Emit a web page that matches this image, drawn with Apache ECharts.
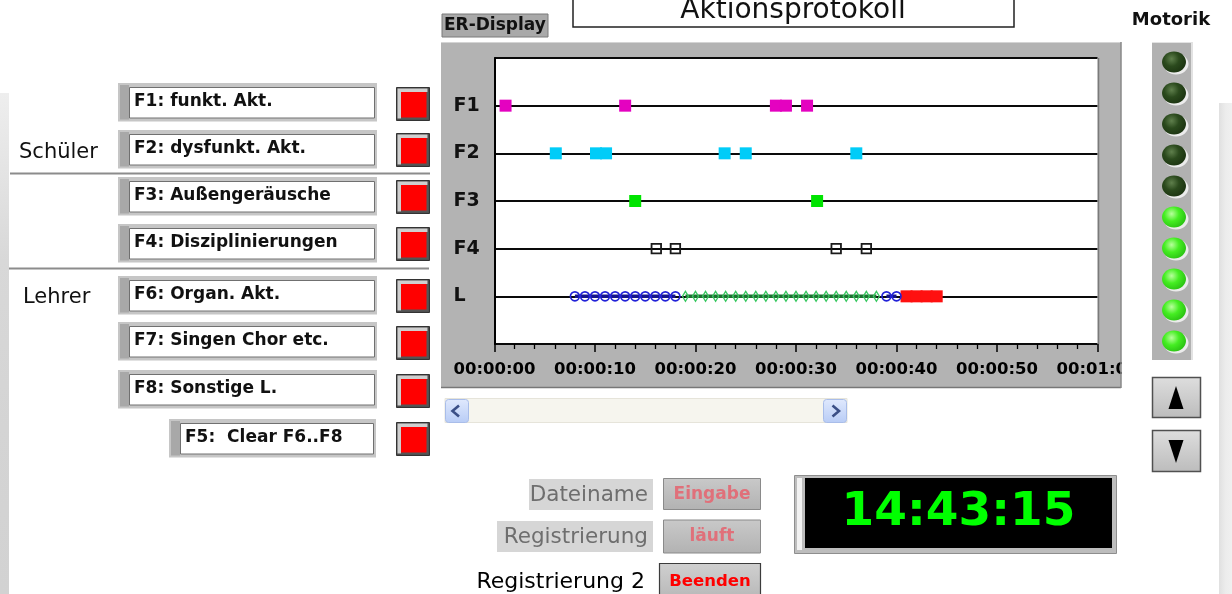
<!DOCTYPE html>
<html><head><meta charset="utf-8">
<script src="https://cdn.jsdelivr.net/npm/echarts@6.0.0/dist/echarts.min.js"></script>
<style>html,body{margin:0;padding:0;background:#fff;overflow:hidden}#c{width:1232px;height:594px}</style>
</head><body><div id="c"></div><script>
// ---------- data ----------
const rowLabels = ['', 'L', 'F4', 'F3', 'F2', 'F1', ''];
const xTickLabels = ['00:00:00','00:00:10','00:00:20','00:00:30','00:00:40','00:00:50','00:01:00'];
const f1Times = [1.1, 13.0, 28.0, 29.0, 31.1];
const f2Times = [6.1, 10.1, 11.1, 22.9, 25.0, 36.0];
const f3Times = [14.0, 32.1];
const f4Times = [16.1, 18.0, 34.0, 37.0];
const lOrganTimesA = [8, 9, 10, 11, 12, 13, 14, 15, 16, 17, 18];
const lChorTimes = [19, 20, 21, 22, 23, 24, 25, 26, 27, 28, 29, 30, 31, 32, 33, 34, 35, 36, 37, 38];
const lOrganTimesB = [39, 40];
const lSonstigeTimes = [41, 42, 43, 44];
const rowF1 = 5, rowF2 = 4, rowF3 = 3, rowF4 = 2, rowL = 1;
const keyLabels = ['F1: funkt. Akt.', 'F2: dysfunkt. Akt.', 'F3: Außengeräusche', 'F4: Disziplinierungen',
  'F6: Organ. Akt.', 'F7: Singen Chor etc.', 'F8: Sonstige L.', 'F5:  Clear F6..F8'];
const groupLabels = ['Schüler', 'Lehrer'];
const motorikLit = [0, 0, 0, 0, 0, 1, 1, 1, 1, 1];
const clockText = '14:43:15';
const titleText = 'Aktionsprotokoll';

// ---------- helpers ----------
const FF = '"DejaVu Sans", sans-serif';
const G = [];
function sty(fill, stroke, lw) { const s = {fill: fill || 'none'}; if (stroke) { s.stroke = stroke; s.lineWidth = lw || 1; } return s; }
function R(x, y, w, h, fill, stroke, lw, z, r) { G.push({type: 'rect', silent: true, z: z == null ? 10 : z, shape: {x: x, y: y, width: w, height: h, r: r || 0}, style: sty(fill, stroke, lw)}); }
function T(x, y, s, font, fill, align, va, z) { G.push({type: 'text', silent: true, z: z == null ? 12 : z, x: x, y: y, style: {text: s, font: font, fill: fill, align: align || 'left', verticalAlign: va || 'middle'}}); }
function L(x1, y1, x2, y2, stroke, lw, z) { G.push({type: 'line', silent: true, z: z == null ? 11 : z, shape: {x1: x1, y1: y1, x2: x2, y2: y2}, style: {stroke: stroke, lineWidth: lw}}); }
function P(points, fill, z) { G.push({type: 'polygon', silent: true, z: z == null ? 12 : z, shape: {points: points}, style: {fill: fill}}); }
function PL(points, stroke, lw, z) { G.push({type: 'polyline', silent: true, z: z == null ? 12 : z, shape: {points: points}, style: {stroke: stroke, lineWidth: lw, fill: 'none'}}); }
function E(cx, cy, rx, ry, fill, z) { G.push({type: 'ellipse', silent: true, z: z == null ? 11 : z, shape: {cx: cx, cy: cy, rx: rx, ry: ry}, style: {fill: fill}}); }
const lg = (x1, y1, x2, y2, stops) => new echarts.graphic.LinearGradient(x1, y1, x2, y2, stops.map((c, i) => ({offset: i / (stops.length - 1), color: c})));
const rg = (x, y, r, stops) => new echarts.graphic.RadialGradient(x, y, r, stops.map((c, i) => ({offset: i / (stops.length - 1), color: c})));

// ---------- page decoration ----------
R(0, 93, 9, 501, lg(0, 0, 0, 1, ['#eeeeee', '#d8d8d8', '#d4d4d4', '#d2d2d2']), null, 0, -20);
R(1219, 103, 13, 491, lg(0, 0, 1, 0, ['#e0e0e0', '#ececec', '#f0f0f0']), null, 0, -20);

// chart frame
R(441, 42, 680, 346, '#b3b3b3', null, 0, -10);
L(441, 42.5, 1121, 42.5, '#d4d4d4', 1, -9);
L(441, 387.5, 1121, 387.5, '#777', 1.5, 11);
L(1121, 42, 1121, 388, '#888', 1.5, 11);
L(1098.5, 58, 1098.5, 344, '#7a7a7a', 1.5, 5);
R(1121.8, 352, 24, 34, '#fff', null, 0, 10);

// title + ER-Display
R(573, -2, 441, 29, '#fff', '#222', 1.5);
T(793, 10.5, titleText, '28px ' + FF, '#111', 'center');
R(442, 14, 106, 23, '#a9a9a9', '#7a7a7a', 1);
T(444, 26, 'ER-Display', 'bold 17px ' + FF, '#111');

// left key boxes and red buttons
const boxX = [118, 118, 118, 118, 118, 118, 118, 169];
const boxY = [83, 130, 177, 224, 276, 322, 370, 419];
const boxW = [259, 259, 259, 259, 259, 259, 259, 207];
const btnY = [87, 133, 180, 227, 279, 326, 374, 422];
keyLabels.forEach((lab, i) => {
  const x = boxX[i], y = boxY[i], w = boxW[i], h = 38.5;
  R(x, y, w, h, '#c6c6c6');
  R(x + 2, y + 2, 9, h - 4, '#a8a8a8');
  R(x + 11.5, y + 4.5, w - 14, h - 8, '#fff', '#707070', 1);
  T(x + 16, y + 18.5, lab, 'bold 17px ' + FF, '#111');
  const by = btnY[i];
  R(396.5, by + 0.5, 33, 33, '#4a4a4a', '#333', 1);
  R(397.5, by + 1.5, 30, 30, '#cfcfcf');
  R(401, by + 5, 27.5, 27.5, '#555');
  R(401, by + 5, 25.5, 25.5, '#ff0000');
});
L(10, 173.5, 430, 173.5, '#8c8c8c', 2);
L(9, 268.5, 429, 268.5, '#8c8c8c', 2);
T(19, 153, groupLabels[0], '21px ' + FF, '#111');
T(23, 298, groupLabels[1], '21px ' + FF, '#111');

// scrollbar
R(445, 398.5, 402, 24, '#f6f5ee', '#e6e4da', 1);
R(445.5, 399.5, 23, 23, lg(0, 0, 0, 1, ['#e0e9fd', '#b8ccf6']), '#a9bde9', 1, 11, 3);
R(823.5, 399.5, 23, 23, lg(0, 0, 0, 1, ['#e0e9fd', '#b8ccf6']), '#a9bde9', 1, 11, 3);
PL([[459, 405.5], [452.5, 411], [459, 416.5]], '#3b4f86', 2.6);
PL([[832.5, 405.5], [839, 411], [832.5, 416.5]], '#3b4f86', 2.6);

// bottom controls
R(529, 479, 124, 31, '#d6d6d6');
T(648, 495, 'Dateiname', '21.5px ' + FF, '#6e6e6e', 'right');
R(497, 521, 156, 31, '#d6d6d6');
T(648, 537, 'Registrierung', '21.5px ' + FF, '#6e6e6e', 'right');
T(645, 582, 'Registrierung 2', '22px ' + FF, '#000', 'right');
R(663.5, 478.5, 97, 31, lg(0, 0, 0, 1, ['#c9c9c9', '#b2b2b2']), '#8a8a8a', 1);
T(712, 495, 'Eingabe', 'bold 17px ' + FF, '#e0707a', 'center');
R(663.5, 520, 97, 33, lg(0, 0, 0, 1, ['#c9c9c9', '#b2b2b2']), '#8a8a8a', 1);
T(712, 537, 'läuft', 'bold 17px ' + FF, '#e0707a', 'center');
R(659.5, 563.5, 101, 40, lg(0, 0, 0, 1, ['#d0d0d0', '#b4b4b4']), '#3c3c3c', 1.2);
T(710, 582, 'Beenden', 'bold 16.5px ' + FF, '#ff0000', 'center');

// clock
R(794.5, 475.5, 322, 78, '#bdbdbd', '#8e8e8e', 1);
R(797, 478, 5, 72, '#f2f2f2');
R(805, 478, 307, 70, '#000');
T(958.5, 513, clockText, 'bold 47px ' + FF, '#00ff00', 'center');

// Motorik LEDs
T(1171, 20, 'Motorik', 'bold 18px ' + FF, '#111', 'center');
R(1152, 42, 40, 318, '#b1b1b1');
L(1192, 42, 1192, 360, '#e2e2e2', 2);
L(1152, 42.5, 1192, 42.5, '#e2e2e2', 1);
motorikLit.forEach((lit, i) => {
  const cy = 62 + i * 31;
  E(1176, cy + 2, 12.5, 10.5, '#ececec', 10);
  E(1174, cy, 12, 10.5, lit ? rg(0.4, 0.35, 0.7, ['#b8ff9c', '#45ee22', '#2cc414']) : rg(0.4, 0.35, 0.7, ['#5f7f4c', '#2b4a1d', '#1d3512']), 11);
});
R(1152.5, 377.5, 48, 40, lg(0, 0, 0, 1, ['#dedede', '#bcbcbc']), '#505050', 1.5);
P([[1176, 386], [1183.5, 409], [1168.5, 409]], '#000');
R(1152.5, 430.5, 48, 41, lg(0, 0, 0, 1, ['#dedede', '#bcbcbc']), '#505050', 1.5);
P([[1168.5, 440], [1183.5, 440], [1176, 463]], '#000');

// ---------- chart ----------
const pts = (ts, row) => ts.map(t => [t, row]);
const chart = echarts.init(document.getElementById('c'), null, {renderer: 'canvas'});
chart.setOption({
  animation: false,
  backgroundColor: '#fff',
  grid: {left: 494.5, right: 134.5, top: 58, bottom: 250, show: true, backgroundColor: '#fff', borderWidth: 0, containLabel: false, outerBoundsMode: 'none'},
  xAxis: {
    type: 'value', min: 0, max: 60, interval: 10, offset: 3,
    axisLine: {show: false},
    axisTick: {show: true, length: 8, lineStyle: {color: '#000', width: 1.5}},
    minorTick: {show: true, splitNumber: 5, length: 5, lineStyle: {color: '#000', width: 1.3}},
    splitLine: {show: false}, minorSplitLine: {show: false},
    axisLabel: {margin: 14, color: '#000', fontFamily: FF, fontWeight: 'bold', fontSize: 16.5,
      formatter: v => xTickLabels[Math.round(v / 10)] || ''}
  },
  yAxis: {
    type: 'value', min: 0, max: 6, interval: 1,
    axisLine: {show: true, lineStyle: {color: '#000', width: 2}},
    axisTick: {show: false},
    splitLine: {show: true, lineStyle: {color: '#0a0a0a', width: 2}},
    axisLabel: {align: 'left', margin: 41, color: '#111', fontFamily: FF, fontWeight: 'bold', fontSize: 19,
      formatter: v => rowLabels[Math.round(v)] || ''}
  },
  series: [
    {type: 'scatter', silent: true, data: pts(f1Times, rowF1), symbol: 'rect', symbolSize: 12, itemStyle: {color: '#e402c0', opacity: 1}},
    {type: 'scatter', silent: true, data: pts(f2Times, rowF2), symbol: 'rect', symbolSize: 12, itemStyle: {color: '#00ccf8', opacity: 1}},
    {type: 'scatter', silent: true, data: pts(f3Times, rowF3), symbol: 'rect', symbolSize: 12, itemStyle: {color: '#00e400', opacity: 1}},
    {type: 'scatter', silent: true, data: pts(f4Times, rowF4), symbol: 'rect', symbolSize: 9.5, itemStyle: {color: 'rgba(0,0,0,0)', borderColor: '#1a1a1a', borderWidth: 1.8, opacity: 1}},
    {type: 'line', silent: true, data: pts(lOrganTimesA, rowL), symbol: 'circle', symbolSize: 9, showAllSymbol: true,
      lineStyle: {color: '#14148c', width: 3.5}, itemStyle: {color: 'rgba(0,0,0,0)', borderColor: '#2222d8', borderWidth: 1.6}},
    {type: 'line', silent: true, data: pts(lChorTimes, rowL), symbol: 'diamond', symbolSize: [6, 10], showAllSymbol: true,
      lineStyle: {color: '#1c7030', width: 3.5}, itemStyle: {color: 'rgba(0,0,0,0)', borderColor: '#38c860', borderWidth: 1.4}},
    {type: 'line', silent: true, data: pts(lOrganTimesB, rowL), symbol: 'circle', symbolSize: 9, showAllSymbol: true,
      lineStyle: {color: '#14148c', width: 3.5}, itemStyle: {color: 'rgba(0,0,0,0)', borderColor: '#2222d8', borderWidth: 1.6}},
    {type: 'scatter', silent: true, data: pts(lSonstigeTimes, rowL), symbol: 'rect', symbolSize: 12, itemStyle: {color: '#ff1010', opacity: 1}}
  ],
  graphic: {elements: G}
});
</script></body></html>
